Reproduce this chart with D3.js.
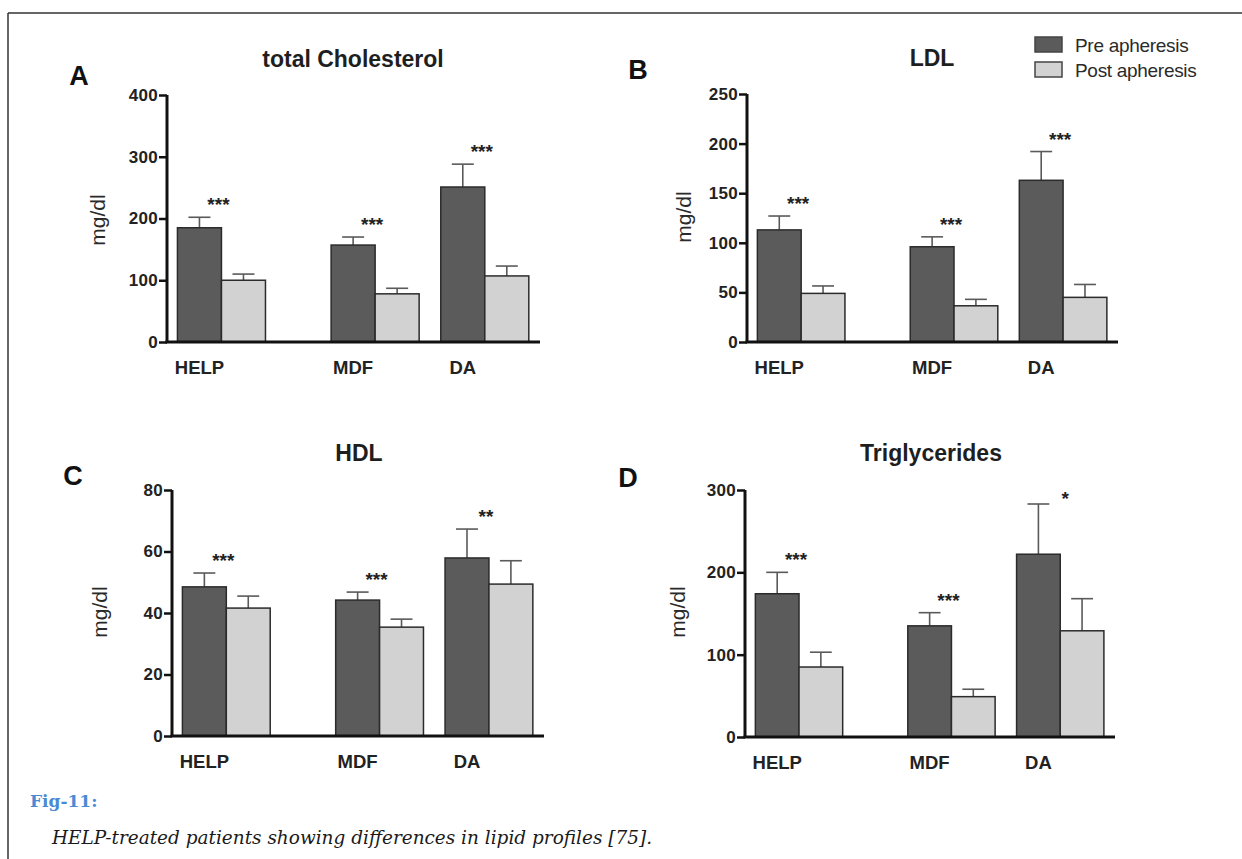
<!DOCTYPE html>
<html>
<head>
<meta charset="utf-8">
<script src="https://cdn.jsdelivr.net/npm/d3@7"></script>
<style>
  html, body { margin: 0; padding: 0; background: #ffffff; }
  svg { display: block; }
</style>
</head>
<body>
<svg id="fig" width="1242" height="859"></svg>
<script>
// ---------- data ----------
const categories = ["HELP", "MDF", "DA"];
const seriesNames = ["Pre apheresis", "Post apheresis"];

const cholPre = [185, 157, 251];
const cholPreErr = [17, 13, 37];
const cholPost = [100, 78, 107];
const cholPostErr = [10, 9, 16];
const cholSig = ["***", "***", "***"];
const cholTicks = [0, 100, 200, 300, 400];

const ldlPre = [113, 96, 163];
const ldlPreErr = [14, 10, 29];
const ldlPost = [49, 36.5, 45];
const ldlPostErr = [7.5, 6.5, 13];
const ldlSig = ["***", "***", "***"];
const ldlTicks = [0, 50, 100, 150, 200, 250];

const hdlPre = [48.5, 44.2, 57.9];
const hdlPreErr = [4.5, 2.6, 9.4];
const hdlPost = [41.6, 35.4, 49.4];
const hdlPostErr = [3.9, 2.6, 7.6];
const hdlSig = ["***", "***", "**"];
const hdlTicks = [0, 20, 40, 60, 80];

const tgPre = [174, 135, 222];
const tgPreErr = [26, 16, 61];
const tgPost = [85, 49, 129];
const tgPostErr = [18, 9, 39];
const tgSig = ["***", "***", "*"];
const tgTicks = [0, 100, 200, 300];

const panelTitles = ["total Cholesterol", "LDL", "HDL", "Triglycerides"];
const panelLetters = ["A", "B", "C", "D"];
const yLabel = "mg/dl";
const figLabel = "Fig-11:";
const caption = "HELP-treated patients showing differences in lipid profiles [75].";

// ---------- layout ----------
const colors = { pre: "#5b5b5b", post: "#d2d2d2", outline: "#2b2b2b", err: "#5a5a5a", ink: "#1e1e1e" };
const SANS = "'Liberation Sans', Arial, sans-serif";
const groupStart = [0.028, 0.44, 0.734]; // fraction of axis length
const barFrac = 0.118;

const panels = [
  { pre: cholPre, preErr: cholPreErr, post: cholPost, postErr: cholPostErr, sig: cholSig, ticks: cholTicks,
    x0: 167, x1: 540, yTop: 95, yBase: 342, titleX: 353, titleY: 59, letterX: 79, letterY: 76, labX: 97, labY: 220, catY: 367 },
  { pre: ldlPre, preErr: ldlPreErr, post: ldlPost, postErr: ldlPostErr, sig: ldlSig, ticks: ldlTicks,
    x0: 747, x1: 1118, yTop: 94, yBase: 342, titleX: 932, titleY: 58, letterX: 638, letterY: 70, labX: 683, labY: 217, catY: 367 },
  { pre: hdlPre, preErr: hdlPreErr, post: hdlPost, postErr: hdlPostErr, sig: hdlSig, ticks: hdlTicks,
    x0: 172, x1: 544, yTop: 490, yBase: 736, titleX: 359, titleY: 453, letterX: 73, letterY: 476, labX: 99, labY: 612, catY: 761 },
  { pre: tgPre, preErr: tgPreErr, post: tgPost, postErr: tgPostErr, sig: tgSig, ticks: tgTicks,
    x0: 745, x1: 1115, yTop: 490, yBase: 737, titleX: 931, titleY: 453, letterX: 628, letterY: 478, labX: 677, labY: 612, catY: 762 }
];

const svg = d3.select("#fig");

// page frame
svg.append("line").attr("x1", 8).attr("x2", 1242).attr("y1", 13).attr("y2", 13)
  .attr("stroke", "#333").attr("stroke-width", 1.5);
svg.append("line").attr("x1", 8).attr("x2", 8).attr("y1", 13).attr("y2", 859)
  .attr("stroke", "#333").attr("stroke-width", 1.5);

panels.forEach((p, pi) => {
  const g = svg.append("g");
  const y = d3.scaleLinear().domain([0, d3.max(p.ticks)]).range([p.yBase, p.yTop]);
  const x = d3.scaleLinear().domain([0, 1]).range([p.x0, p.x1]);
  const bw = x(barFrac) - x(0);

  // title & letter
  g.append("text").attr("x", p.titleX).attr("y", p.titleY).attr("text-anchor", "middle")
    .attr("dominant-baseline", "central").attr("font-family", SANS).attr("font-weight", "bold")
    .attr("font-size", 23).attr("fill", colors.ink).text(panelTitles[pi]);
  g.append("text").attr("x", p.letterX).attr("y", p.letterY).attr("text-anchor", "middle")
    .attr("dominant-baseline", "central").attr("font-family", SANS).attr("font-weight", "bold")
    .attr("font-size", 27).attr("fill", "#111").text(panelLetters[pi]);

  // y label
  g.append("text").attr("transform", `translate(${p.labX},${p.labY}) rotate(-90)`)
    .attr("text-anchor", "middle").attr("dominant-baseline", "central")
    .attr("font-family", SANS).attr("font-size", 21).attr("fill", "#2a2a2a").text(yLabel);

  // bars
  const rows = categories.map((c, i) => ({ c, i, pre: p.pre[i], preErr: p.preErr[i], post: p.post[i], postErr: p.postErr[i], sig: p.sig[i] }));
  const bars = [];
  rows.forEach(r => {
    const xs = x(groupStart[r.i]);
    bars.push({ x: xs, v: r.pre, e: r.preErr, fill: colors.pre });
    bars.push({ x: xs + bw, v: r.post, e: r.postErr, fill: colors.post });
  });

  // error bars
  const eg = g.append("g").attr("stroke", colors.err).attr("stroke-width", 1.6);
  bars.forEach(b => {
    const cx = b.x + bw / 2;
    eg.append("line").attr("x1", cx).attr("x2", cx).attr("y1", y(b.v)).attr("y2", y(b.v + b.e));
    eg.append("line").attr("x1", cx - bw / 4).attr("x2", cx + bw / 4).attr("y1", y(b.v + b.e)).attr("y2", y(b.v + b.e));
  });

  g.selectAll("rect.bar").data(bars).join("rect").attr("class", "bar")
    .attr("x", d => d.x).attr("width", bw)
    .attr("y", d => y(d.v)).attr("height", d => y(0) - y(d.v))
    .attr("fill", d => d.fill).attr("stroke", colors.outline).attr("stroke-width", 1.5);

  // significance stars
  rows.forEach(r => {
    const xs = x(groupStart[r.i]) + bw - 3 + (r.sig.length === 1 ? 8 : 0);
    const yc = y(r.pre + r.preErr) - 17 + (r.sig.length === 1 ? 7 : 0);
    g.append("text").attr("x", xs).attr("y", yc + 11).attr("text-anchor", "middle")
      .attr("font-family", SANS).attr("font-weight", "bold").attr("font-size", 19)
      .attr("fill", "#222").text(r.sig);
  });

  // y axis
  const yAxis = d3.axisLeft(y).tickValues(p.ticks).tickSize(8).tickPadding(1).tickFormat(d3.format("d"));
  const ya = g.append("g").attr("transform", `translate(${p.x0},0)`).call(yAxis);
  ya.select(".domain").attr("stroke", "#111").attr("stroke-width", 3).attr("d", `M0,${p.yTop}V${p.yBase}`);
  ya.selectAll(".tick line").attr("stroke", "#111").attr("stroke-width", 2.5);
  ya.selectAll(".tick text").attr("font-family", SANS).attr("font-weight", "bold")
    .attr("font-size", 17).attr("fill", "#222").attr("letter-spacing", "0.3");

  // x axis baseline
  g.append("line").attr("x1", p.x0 - 1.5).attr("x2", p.x1).attr("y1", p.yBase).attr("y2", p.yBase)
    .attr("stroke", "#111").attr("stroke-width", 3);

  // category labels (under the pre bar)
  rows.forEach(r => {
    g.append("text").attr("x", x(groupStart[r.i]) + bw / 2).attr("y", p.catY)
      .attr("text-anchor", "middle").attr("dominant-baseline", "central")
      .attr("font-family", SANS).attr("font-weight", "bold").attr("font-size", 18.5)
      .attr("fill", "#222").text(r.c);
  });
});

// legend
const leg = svg.append("g").attr("transform", "translate(1035,37)");
const legFills = [colors.pre, colors.post];
seriesNames.forEach((s, i) => {
  leg.append("rect").attr("x", 0).attr("y", i * 25).attr("width", 27).attr("height", 15)
    .attr("fill", legFills[i]).attr("stroke", "#444").attr("stroke-width", 1.5);
  leg.append("text").attr("x", 40).attr("y", i * 25 + 8).attr("dominant-baseline", "central")
    .attr("font-family", SANS).attr("font-size", 19).attr("letter-spacing", "-0.3")
    .attr("fill", "#2a2a2a").text(s);
});

// caption
svg.append("text").attr("x", 30).attr("y", 801).attr("dominant-baseline", "central")
  .attr("font-family", "'DejaVu Serif', Georgia, serif").attr("font-weight", "bold")
  .attr("font-size", 17).attr("fill", "#4a8ad4").text(figLabel);
svg.append("text").attr("x", 52).attr("y", 837).attr("dominant-baseline", "central")
  .attr("font-family", "'DejaVu Serif', Georgia, serif").attr("font-style", "italic")
  .attr("font-size", 18).attr("fill", "#1a1a1a").attr("textLength", 600)
  .attr("lengthAdjust", "spacingAndGlyphs").text(caption);
</script>
</body>
</html>
